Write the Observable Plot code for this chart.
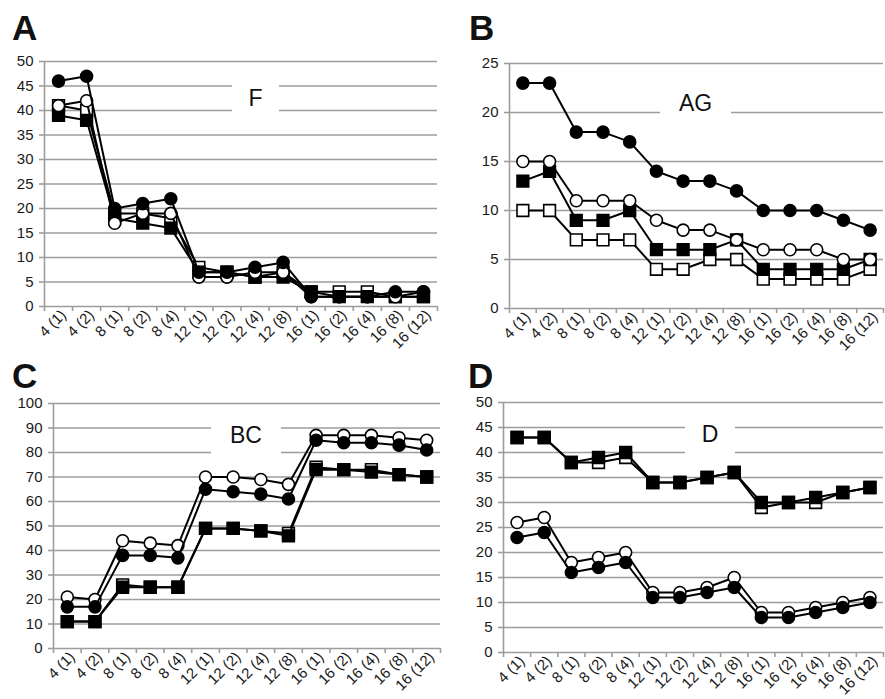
<!DOCTYPE html>
<html>
<head>
<meta charset="utf-8">
<script src="https://cdn.jsdelivr.net/npm/d3@7"></script>
<script src="https://cdn.jsdelivr.net/npm/@observablehq/plot@0.6"></script>
<style>
  html, body { margin: 0; padding: 0; background: #fff; }
  #root { position: relative; width: 885px; height: 699px; overflow: hidden; font-family: "Liberation Sans", Arial, sans-serif; }
  .panel { position: absolute; }
  .letter { position: absolute; font-weight: bold; font-size: 35px; line-height: 35px; color: #111; }
  .title { position: absolute; background: #fff; font-size: 23px; color: #111; display: flex; align-items: center; justify-content: center; }
</style>
</head>
<body>
<div id="root"></div>
<script>
const categories = ["4 (1)", "4 (2)", "8 (1)", "8 (2)", "8 (4)", "12 (1)", "12 (2)", "12 (4)", "12 (8)", "16 (1)", "16 (2)", "16 (4)", "16 (8)", "16 (12)"];

// Panel A — F
const F_filledCircle = [46, 47, 20, 21, 22, 7, 7, 8, 9, 2, 2, 2, 3, 3];
const F_openCircle   = [41, 42, 17, 19, 19, 6, 6, 7, 7, 2, 2, 2, 2, 3];
const F_filledSquare = [39, 38, 18, 17, 16, 7, 7, 6, 6, 3, 2, 2, 2, 2];
const F_openSquare   = [41, 40, 19, 19, 18, 8, 7, 6, 7, 3, 3, 3, 2, 2];

// Panel B — AG
const AG_filledCircle = [23, 23, 18, 18, 17, 14, 13, 13, 12, 10, 10, 10, 9, 8];
const AG_openCircle   = [15, 15, 11, 11, 11, 9, 8, 8, 7, 6, 6, 6, 5, 5];
const AG_filledSquare = [13, 14, 9, 9, 10, 6, 6, 6, 7, 4, 4, 4, 4, 5];
const AG_openSquare   = [10, 10, 7, 7, 7, 4, 4, 5, 5, 3, 3, 3, 3, 4];

// Panel C — BC
const BC_openCircle   = [21, 20, 44, 43, 42, 70, 70, 69, 67, 87, 87, 87, 86, 85];
const BC_filledCircle = [17, 17, 38, 38, 37, 65, 64, 63, 61, 85, 84, 84, 83, 81];
const BC_openSquare   = [11, 11, 26, 25, 25, 49, 49, 48, 47, 74, 73, 73, 71, 70];
const BC_filledSquare = [11, 11, 25, 25, 25, 49, 49, 48, 46, 73, 73, 72, 71, 70];

// Panel D — D
const D_openSquare   = [43, 43, 38, 38, 39, 34, 34, 35, 36, 29, 30, 30, 32, 33];
const D_filledSquare = [43, 43, 38, 39, 40, 34, 34, 35, 36, 30, 30, 31, 32, 33];
const D_openCircle   = [26, 27, 18, 19, 20, 12, 12, 13, 15, 8, 8, 9, 10, 11];
const D_filledCircle = [23, 24, 16, 17, 18, 11, 11, 12, 13, 7, 7, 8, 9, 10];

const yTicksA = [0, 5, 10, 15, 20, 25, 30, 35, 40, 45, 50];
const yTicksB = [0, 5, 10, 15, 20, 25];
const yTicksC = [0, 10, 20, 30, 40, 50, 60, 70, 80, 90, 100];
const yTicksD = [0, 5, 10, 15, 20, 25, 30, 35, 40, 45, 50];

const GRAY = "#9d9d9d";

function seriesMarks(values, symbol, filled) {
  const rows = values.map((v, i) => ({x: i + 0.5, y: v}));
  return [
    Plot.line(rows, {x: "x", y: "y", stroke: "#000", strokeWidth: 2}),
    Plot.dot(rows, {x: "x", y: "y", symbol, r: symbol === "square" ? 6.6 : 6,
      fill: filled ? "#000" : "#fff", stroke: "#000", strokeWidth: 1.6})
  ];
}

function makePanel(cfg) {
  const n = categories.length;
  const bounds = d3.range(0, n + 1);
  const centers = d3.range(0, n).map(i => i + 0.5);
  const marks = [
    Plot.gridY({ticks: cfg.yTicks, stroke: GRAY, strokeOpacity: 1, strokeWidth: 1.6}),
    Plot.ruleX([0], {stroke: GRAY, strokeWidth: 1.6}),
    Plot.axisY({ticks: cfg.yTicks, label: null, tickSize: 5, stroke: GRAY, strokeWidth: 1.6, color: "#1a1a1a", fontSize: 15, tickPadding: 6}),
    Plot.axisX({ticks: bounds, label: null, tickSize: 5, stroke: GRAY, strokeWidth: 1.6, tickFormat: () => ""}),
    Plot.axisX({ticks: centers, label: null, tickSize: 0, tickPadding: 6, tickRotate: -45, dx: 5, color: "#1a1a1a", fontSize: 15,
      tickFormat: d => categories[Math.floor(d)]})
  ];
  for (const s of cfg.series) marks.push(...seriesMarks(s.values, s.symbol, s.filled));
  const svg = Plot.plot({
    width: cfg.width, height: cfg.height,
    marginLeft: cfg.ml, marginRight: cfg.mr, marginTop: cfg.mt, marginBottom: cfg.mb,
    style: {fontFamily: "'Liberation Sans', Arial, sans-serif", background: "transparent", overflow: "visible"},
    x: {type: "linear", domain: [0, n], axis: null, label: null},
    y: {domain: [0, cfg.yTicks[cfg.yTicks.length - 1]], axis: null, label: null},
    marks
  });
  const wrap = document.createElement("div");
  wrap.className = "panel";
  wrap.style.left = cfg.left + "px";
  wrap.style.top = cfg.top + "px";
  wrap.appendChild(svg);
  root.appendChild(wrap);

  const letter = document.createElement("div");
  letter.className = "letter";
  letter.textContent = cfg.letter;
  letter.style.left = cfg.letterX + "px";
  letter.style.top = cfg.letterY + "px";
  root.appendChild(letter);

  const t = document.createElement("div");
  t.className = "title";
  t.textContent = cfg.title;
  Object.assign(t.style, {left: cfg.tb[0] + "px", top: cfg.tb[1] + "px", width: cfg.tb[2] + "px", height: cfg.tb[3] + "px"});
  root.appendChild(t);
}

const root = document.getElementById("root");

makePanel({
  letter: "A", letterX: 12, letterY: 10, title: "F", tb: [232, 82, 47, 33],
  left: 0, top: 40, width: 442, height: 320, ml: 44, mr: 5, mt: 21, mb: 54,
  yTicks: yTicksA,
  series: [
    {values: F_openSquare, symbol: "square", filled: false},
    {values: F_filledSquare, symbol: "square", filled: true},
    {values: F_openCircle, symbol: "circle", filled: false},
    {values: F_filledCircle, symbol: "circle", filled: true}
  ]
});

makePanel({
  letter: "B", letterX: 469, letterY: 10, title: "AG", tb: [660, 87, 71, 32],
  left: 442, top: 40, width: 443, height: 320, ml: 67, mr: 2, mt: 23, mb: 52,
  yTicks: yTicksB,
  series: [
    {values: AG_openSquare, symbol: "square", filled: false},
    {values: AG_filledSquare, symbol: "square", filled: true},
    {values: AG_openCircle, symbol: "circle", filled: false},
    {values: AG_filledCircle, symbol: "circle", filled: true}
  ]
});

makePanel({
  letter: "C", letterX: 12, letterY: 358, title: "BC", tb: [211, 413, 70, 44],
  left: 0, top: 385, width: 442, height: 314, ml: 53, mr: 2, mt: 18, mb: 51,
  yTicks: yTicksC,
  series: [
    {values: BC_openSquare, symbol: "square", filled: false},
    {values: BC_filledSquare, symbol: "square", filled: true},
    {values: BC_openCircle, symbol: "circle", filled: false},
    {values: BC_filledCircle, symbol: "circle", filled: true}
  ]
});

makePanel({
  letter: "D", letterX: 468, letterY: 358, title: "D", tb: [685, 412, 50, 44],
  left: 442, top: 385, width: 443, height: 314, ml: 61, mr: 2, mt: 17, mb: 47,
  yTicks: yTicksD,
  series: [
    {values: D_openSquare, symbol: "square", filled: false},
    {values: D_filledSquare, symbol: "square", filled: true},
    {values: D_openCircle, symbol: "circle", filled: false},
    {values: D_filledCircle, symbol: "circle", filled: true}
  ]
});
</script>
</body>
</html>
